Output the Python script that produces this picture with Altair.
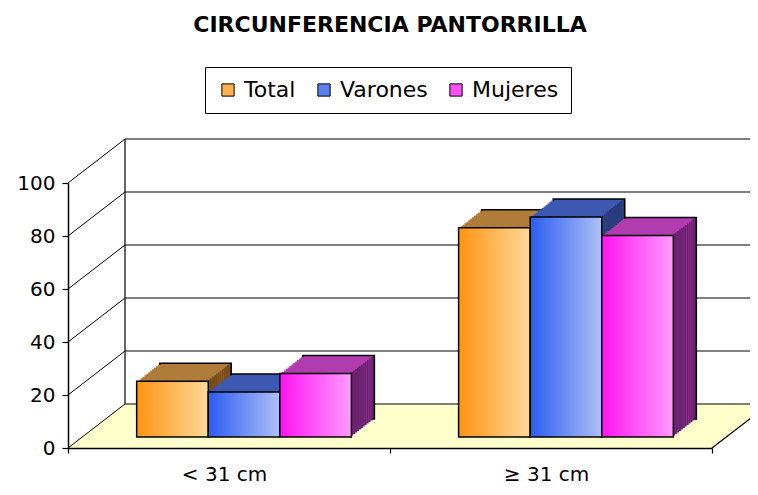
import altair as alt
import pandas as pd

# ---------------- data ----------------
CATEGORIES = ["< 31 cm", "≥ 31 cm"]
SERIES = ["Total", "Varones", "Mujeres"]
TOTAL = [21, 79]
VARONES = [17, 83]
MUJERES = [24, 76]
Y_TICKS = [0, 20, 40, 60, 80, 100]
TITLE = "CIRCUNFERENCIA PANTORRILLA"

# ---------------- styles / geometry ----------------
FONT = "DejaVu Sans"
FRONT_LEFT = {"Total": "#ff9412", "Varones": "#2c5cf2", "Mujeres": "#ff14f0"}
FRONT_RIGHT = {"Total": "#ffd99a", "Varones": "#aec0f5", "Mujeres": "#ff9cff"}
LEGEND_COLORS = ["#ffb050", "#5a80f0", "#ff50f8"]
TOP_COL = {"Total": "#b07c3a", "Varones": "#3c58b0", "Mujeres": "#b03cb0"}
SIDE_COL = {"Total": "#7a4c1a", "Varones": "#283c7c", "Mujeres": "#6c2470"}
FLOOR = "#ffffcc"

W, H = 644, 265
YMAX = 100
WALL_DX, WALL_DY = 57, 44      # depth of the whole 3-D box (px)
BAR_DX, BAR_DY = 15, 11        # front face of the columns (px)
EXT_DX, EXT_DY = 23, 18        # depth of each column (px)
N_STEPS = 12

rows = []
for i, c in enumerate(CATEGORIES):
    for s, vals in zip(SERIES, [TOTAL, VARONES, MUJERES]):
        rows.append({"cat": c, "series": s, "value": vals[i]})
bars = pd.DataFrame(rows)
ticks = pd.DataFrame({"v": Y_TICKS})
wall = pd.DataFrame({"lo": [0], "hi": [YMAX]})

a = WALL_DX / W
dyu = WALL_DY * YMAX / H
floor = pd.DataFrame({"fx": [0, a, 1, 1 + a],
                      "ftop": [0, dyu, dyu, dyu],
                      "fbot": [0, 0, 0, dyu]})

yscale = alt.Scale(domain=[0, YMAX], nice=False, zero=True)
y_axis = alt.Axis(values=Y_TICKS, labelFont=FONT, labelFontSize=20, labelColor="black",
                  tickSize=6, tickColor="black", tickWidth=1.2, labelPadding=7,
                  domainColor="black", domainWidth=1.5, grid=False, title=None, zindex=1)
x_axis = alt.Axis(labelFont=FONT, labelFontSize=20, labelColor="black", labelPadding=11,
                  labelOffset=-5, labelAngle=0, domainColor="black", domainWidth=1.5,
                  tickColor="black", tickWidth=1.2, tickSize=5, tickBand="extent",
                  title=None, zindex=1)
xoscale = alt.Scale(domain=SERIES, paddingInner=0, paddingOuter=0)


def Yq(field, axis=None):
    return alt.Y(f"{field}:Q", scale=yscale, axis=axis)


def grad(stops):
    return {"gradient": "linear", "x1": 0, "y1": 0, "x2": 1, "y2": 0,
            "stops": [{"offset": o, "color": c} for o, c in stops]}


def by_series(gmap):
    return alt.FillValue(
        value=gmap["Mujeres"],
        condition=[{"test": "datum.series === 'Total'", "value": gmap["Total"]},
                   {"test": "datum.series === 'Varones'", "value": gmap["Varones"]}])


front_grad = {s: grad([(0, FRONT_LEFT[s]), (1, FRONT_RIGHT[s])]) for s in SERIES}
side_grad = {s: grad([(0, TOP_COL[s]), (0.971, TOP_COL[s]), (0.974, SIDE_COL[s]), (1, SIDE_COL[s])])
             for s in SERIES}


def bar_layer(fill, dx, dy, stroke=None):
    kw = dict(yOffset=-dy, y2Offset=-dy)
    if stroke:
        kw.update(stroke=stroke, strokeWidth=1.5)
    else:
        kw.update(strokeWidth=0)
    xs = alt.Scale(domain=CATEGORIES, paddingInner=0.333, paddingOuter=0.1667,
                   range=[dx, W + dx])
    return alt.Chart(bars).mark_bar(**kw).encode(
        x=alt.X("cat:N", sort=CATEGORIES, scale=xs, axis=None),
        xOffset=alt.XOffset("series:N", sort=SERIES, scale=xoscale),
        y=Yq("value"),
        fill=fill,
    )


layers = []
# floor
layers.append(alt.Chart(floor).mark_area(color=FLOOR, opacity=1).encode(
    x=alt.X("fx:Q", scale=alt.Scale(domain=[0, 1], nice=False, zero=False), axis=None),
    y=Yq("ftop"), y2="fbot"))
# back-wall gridlines
layers.append(alt.Chart(ticks).mark_rule(color="black", strokeWidth=1,
                                         xOffset=WALL_DX, x2Offset=WALL_DX,
                                         yOffset=-WALL_DY, y2Offset=-WALL_DY).encode(
    y=Yq("v"), x=alt.value(0), x2=alt.value(W)))
# side-wall diagonals
layers.append(alt.Chart(ticks).mark_rule(color="black", strokeWidth=1,
                                         x2Offset=WALL_DX, y2Offset=-WALL_DY).encode(
    y=Yq("v"), y2="v", x=alt.value(0), x2=alt.value(0)))
# back-wall left edge
layers.append(alt.Chart(wall).mark_rule(color="black", strokeWidth=1.2,
                                        xOffset=WALL_DX, x2Offset=WALL_DX,
                                        yOffset=-WALL_DY, y2Offset=-WALL_DY).encode(
    y=Yq("lo"), y2="hi", x=alt.value(0)))
# floor right edge
layers.append(alt.Chart(wall).mark_rule(color="black", strokeWidth=1.2,
                                        x2Offset=WALL_DX, y2Offset=-WALL_DY).encode(
    y=Yq("lo"), y2="lo", x=alt.value(W), x2=alt.value(W)))
# axes carrier (invisible)
layers.append(alt.Chart(bars).mark_point(opacity=0).encode(
    x=alt.X("cat:N", sort=CATEGORIES,
            scale=alt.Scale(domain=CATEGORIES, paddingInner=0, paddingOuter=0), axis=x_axis),
    y=Yq("value", y_axis)))

# column depth (stacked slices from back to front)
for k in range(N_STEPS, 0, -1):
    dx = BAR_DX + EXT_DX * k / N_STEPS
    dy = BAR_DY + EXT_DY * k / N_STEPS
    layers.append(bar_layer(by_series(side_grad), dx, dy,
                            stroke="black" if k == N_STEPS else None))

# legend-carrying front faces (hidden under gradient faces)
layers.append(bar_layer(
    alt.Fill("series:N", sort=SERIES,
             scale=alt.Scale(domain=SERIES, range=LEGEND_COLORS),
             legend=alt.Legend(title=None, orient="none", legendX=137, legendY=-116,
                               direction="horizontal", strokeColor="black", padding=12,
                               fillColor="white", symbolType="square", symbolSize=150,
                               symbolStrokeColor="black", symbolStrokeWidth=1,
                               symbolOpacity=1, labelFont=FONT, labelFontSize=22,
                               labelColor="black", labelOffset=5, columnPadding=17)),
    BAR_DX, BAR_DY))
# gradient front faces
layers.append(bar_layer(by_series(front_grad), BAR_DX, BAR_DY, stroke="black"))

chart = alt.layer(*layers).resolve_scale(x="independent").resolve_axis(
    x="independent", y="independent").properties(
    width=W, height=H,
    autosize=alt.AutoSizeParams(type="none"),
    padding={"left": 60, "top": 175, "right": 38, "bottom": 39},
    title=alt.TitleParams(TITLE, font=FONT, fontSize=22, fontWeight="bold", color="black",
                          anchor="middle", frame="group", offset=30),
).configure_view(stroke=None)

chart.save("out.html", embed_options={"renderer": "svg", "actions": False})
